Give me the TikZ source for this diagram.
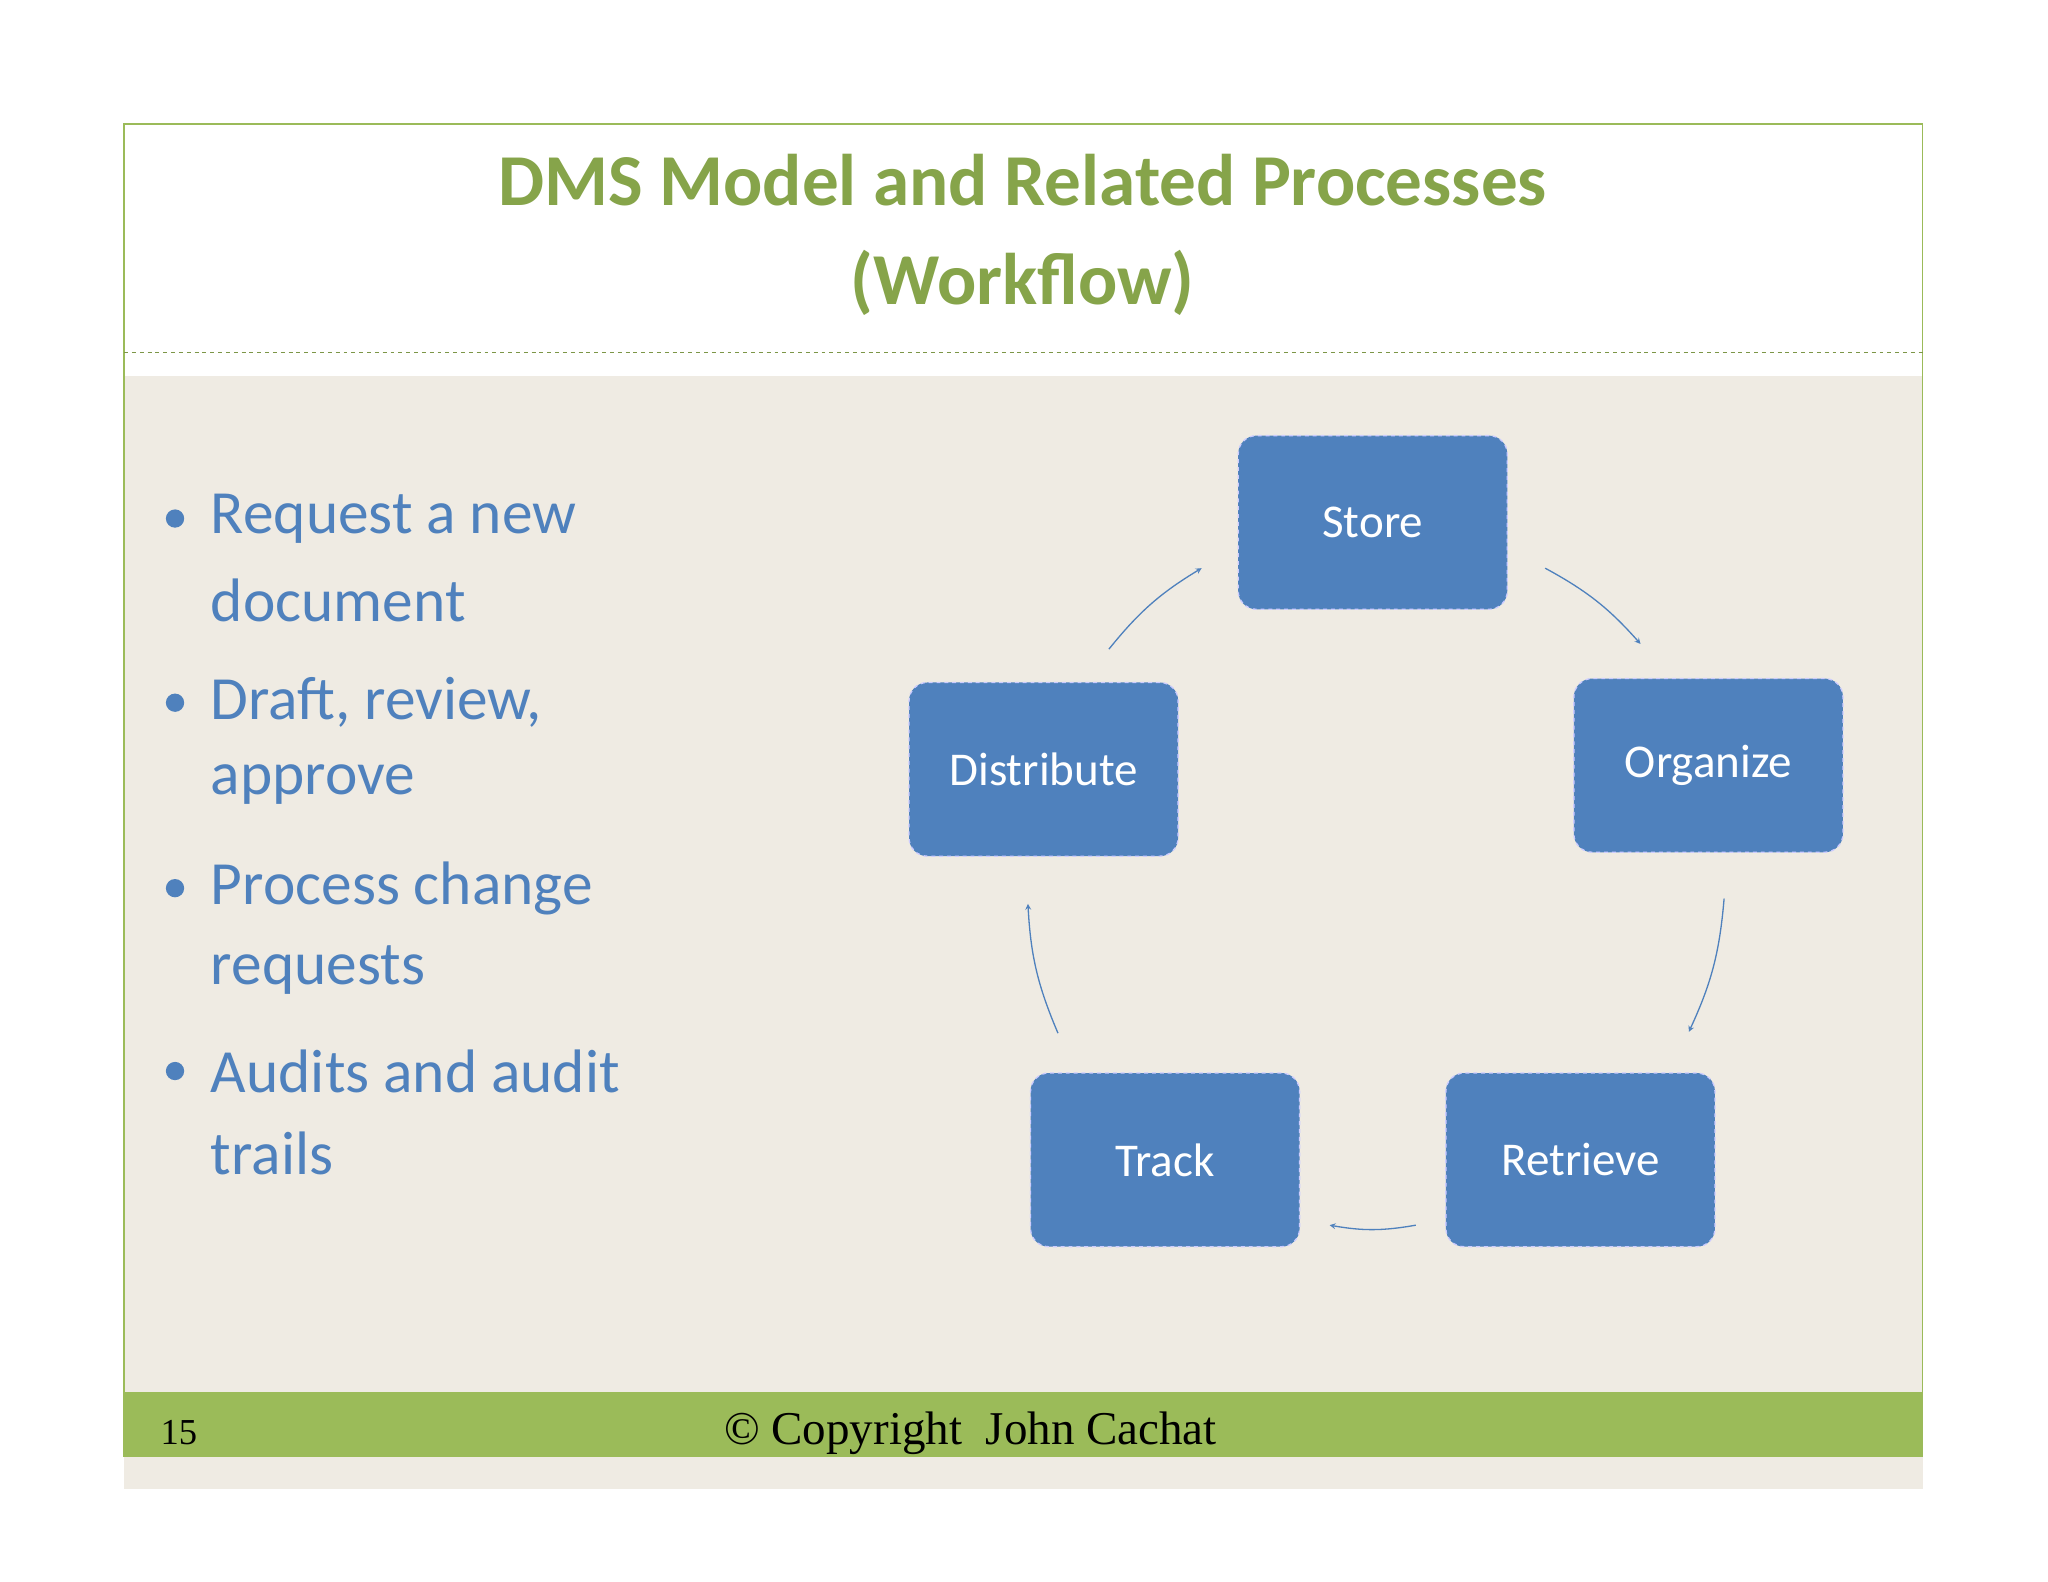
\documentclass[tikz,border=0pt]{standalone}
\usepackage{fontspec}
\setmainfont{Carlito}
\newfontfamily\serifft{Liberation Serif}
\begin{document}
\begin{tikzpicture}[x=1pt,y=1pt,
  box/.style={draw=white!80!blue, dashed, line width=1pt, fill=boxblue, rounded corners=14pt, minimum width=206pt, minimum height=133pt, text=white, font=\fontsize{36}{40}\selectfont},
  bul/.style={anchor=west, text=boxblue, font=\fontsize{47}{52}\selectfont},
  arr/.style={draw=boxblue, line width=1pt, ->, >=stealth}]
\definecolor{boxblue}{HTML}{4F81BD}
\definecolor{olive}{HTML}{9BBB59}
\definecolor{titlec}{HTML}{86A44A}
\definecolor{beige}{HTML}{EFEBE3}
\useasboundingbox (0,0) rectangle (1568,-1211);
\fill[white] (0,0) rectangle (1568,-1211);
\fill[beige] (95,-288) rectangle (1472,-1140);
\fill[olive] (95,-1066) rectangle (1472,-1115);
\draw[olive, line width=1pt] (95,-95) rectangle (1472,-1115);
\draw[olive!80!black, dashed, line width=0.6pt] (95,-270) -- (1472,-270);
\node[text=titlec, font=\bfseries\fontsize{56}{76}\selectfont, align=center] (title) at (783,-180) {DMS Model and Related Processes\\(Workflow)};
\foreach \y/\t/\b in {397/Request a new/1,460/document/0,538/{Draft, review,}/1,601/approve/0,680/Process change/1,743/requests/0,820/Audits and audit/1,883/trails/0}{
  \node[bul] at (158,-\y) {\t};
  \ifnum\b=1 \fill[boxblue] (134,-\y) circle (7pt); \fi
}
\node[box] (store) at (1051,-400) {Store};
\node[box] (org) at (1308,-586) {Organize};
\node[box] (ret) at (1210,-888) {Retrieve};
\node[box] (track) at (892,-888) {Track};
\node[box] (dist) at (799,-589) {Distribute};
\coordinate (a1) at (849,-497); \coordinate (b1) at (920,-435);
\coordinate (a2) at (1183,-435); \coordinate (b2) at (1256,-493);
\coordinate (a3) at (1320,-688); \coordinate (b3) at (1293,-790);
\coordinate (a4) at (1084,-938); \coordinate (b4) at (1018,-938);
\coordinate (a5) at (810,-791); \coordinate (b5) at (787,-692);
\draw[arr] (a1) to[bend left=10] (b1);
\draw[arr] (a2) to[bend left=10] (b2);
\draw[arr] (a3) to[bend left=10] (b3);
\draw[arr] (a4) to[bend left=10] (b4);
\draw[arr] (a5) to[bend left=10] (b5);
\node[font=\serifft\fontsize{28}{30}\selectfont] (pg) at (137,-1097) {15};
\node[font=\serifft\fontsize{36}{40}\selectfont] (copy) at (743,-1097) {© Copyright\ \ John Cachat};
\end{tikzpicture}
\end{document}
